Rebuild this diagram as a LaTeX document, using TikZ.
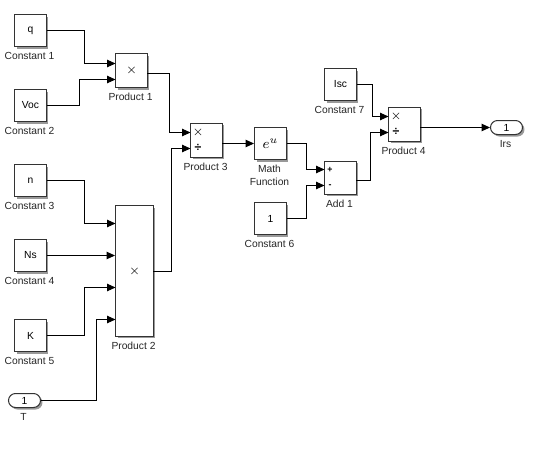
\documentclass[tikz,border=0pt]{standalone}
\usepackage{fontspec}
\setmainfont{Liberation Sans}
\usetikzlibrary{arrows.meta, positioning, calc, shadows, shapes.misc}
\definecolor{BlockEdge}{rgb}{0.2, 0.2, 0.2}

\begin{document}
\begin{tikzpicture}[x=0.02cm, y=-0.02cm, font=\fontsize{5.85}{7.4}\selectfont,
    block/.style={draw=BlockEdge, line width=0.57pt, fill=white, inner sep=0pt, align=center,
        drop shadow={shadow xshift=0.04cm, shadow yshift=-0.04cm, fill=black, opacity=0.4}},
    const/.style={block, minimum width=0.64cm, minimum height=0.64cm},
    prod/.style={block, minimum width=0.64cm, minimum height=0.68cm, font=\fontsize{7}{8}\selectfont},
    port/.style={block, rounded rectangle, minimum width=0.64cm, minimum height=0.28cm},
    lbl/.style={inner sep=0pt, align=center, text=black!85, below=0.1cm of #1, xshift=-0.02cm},
    sign/.style={inner sep=0pt, font=\fontsize{7}{8}\selectfont},
    addsign/.style={inner sep=0pt, font=\fontsize{5}{6}\selectfont\bfseries},
    wire/.style={line width=0.57pt, -{Triangle[length=0.17cm, width=0.15cm]}}]

\useasboundingbox (0,0) rectangle (549,471);

\node[const] (q) at (30.5,30.5) {q};
\node[const] (voc) at (30.5,105.5) {Voc};
\node[const] (n) at (30.5,180.5) {n};
\node[const] (ns) at (30.5,255.5) {Ns};
\node[const] (k) at (30.5,335.5) {K};
\node[port] (t) at (24.5,400.5) {1};
\node[const] (one) at (270.5,218.5) {1};
\node[const] (isc) at (340.5,84.5) {Isc};

\node[prod] (prodA) at (131.5,70.5) {$\times$};
\node[block, minimum width=0.76cm, minimum height=2.62cm, font=\fontsize{7}{8}\selectfont] (prodB) at (134.5,271) {$\times$};
\node[prod] (prodC) at (206.5,140) {};
\node[const, font=\fontsize{8.5}{10}\selectfont] (expfn) at (270.5,143.5) {$e^{u}$};
\node[const, minimum height=0.66cm] (add) at (340.5,177.5) {};
\node[prod] (prodD) at (404.5,124) {};
\node[port] (irs) at (506.5,127.5) {1};

\node[sign] (prodCa) at (198,132) {$\times$};
\node[addsign, font=\fontsize{7}{8}\selectfont\bfseries] (prodCb) at (198,148) {÷};
\node[sign] (prodDa) at (396,116) {$\times$};
\node[addsign, font=\fontsize{7}{8}\selectfont\bfseries] (prodDb) at (396,132) {÷};
\node[addsign] (addA) at (330,169.5) {+};
\node[addsign] (addB) at (330,186) {-};

\node[lbl=q] (lq) {Constant 1};
\node[lbl=voc] (lvoc) {Constant 2};
\node[lbl=n] (ln) {Constant 3};
\node[lbl=ns] (lns) {Constant 4};
\node[lbl=k] (lk) {Constant 5};
\node[lbl=one] (lone) {Constant 6};
\node[lbl=isc] (lisc) {Constant 7};
\node[lbl=t] (lt) {T};
\node[lbl=prodA] (lprodA) {Product 1};
\node[lbl=prodB] (lprodB) {Product 2};
\node[lbl=prodC] (lprodC) {Product 3};
\node[lbl=prodD] (lprodD) {Product 4};
\node[lbl=expfn] (lexpfn) {Math\\Function};
\node[lbl=add] (ladd) {Add 1};
\node[lbl=irs] (lirs) {Irs};

\coordinate (prodAa) at (115.5,63.5);
\coordinate (prodAb) at (115.5,79.5);
\coordinate (prodAout) at (147.5,73.5);
\coordinate (prodBa) at (115.5,223.5);
\coordinate (prodBb) at (115.5,287.5);
\coordinate (prodBc) at (115.5,319.5);
\coordinate (prodBout) at (153.5,271.5);
\coordinate (prodCin) at (190.5,132.5);
\coordinate (prodCdiv) at (190.5,148.5);
\coordinate (prodCout) at (222.5,143.5);
\coordinate (addP) at (324.5,169.5);
\coordinate (addM) at (324.5,185.5);
\coordinate (addOut) at (356.5,180.5);
\coordinate (prodDin) at (388.5,116.5);
\coordinate (prodDdiv) at (388.5,132.5);
\coordinate (prodDout) at (420.5,127.5);

\draw[wire] (q.east) -- (84.5,30.5) |- (prodAa);
\draw[wire] (voc.east) -- (79.5,105.5) |- (prodAb);
\draw[wire] (n.east) -- (84.5,180.5) |- (prodBa);
\draw[wire] (ns.east) -- (prodB.west |- ns.east);
\draw[wire] (k.east) -- (84.5,335.5) |- (prodBb);
\draw[wire] (t.east) -- (96.5,400.5) |- (prodBc);
\draw[wire] (prodAout) -- (169.5,73.5) |- (prodCin);
\draw[wire] (prodBout) -- (171.5,271.5) |- (prodCdiv);
\draw[wire] (prodCout) -- (expfn.west);
\draw[wire] (expfn.east) -- (306.5,143.5) |- (addP);
\draw[wire] (one.east) -- (306.5,218.5) |- (addM);
\draw[wire] (isc.east) -- (372.5,84.5) |- (prodDin);
\draw[wire] (addOut) -- (370.5,180.5) |- (prodDdiv);
\draw[wire] (prodDout) -- (irs.west);

\end{tikzpicture}
\end{document}
